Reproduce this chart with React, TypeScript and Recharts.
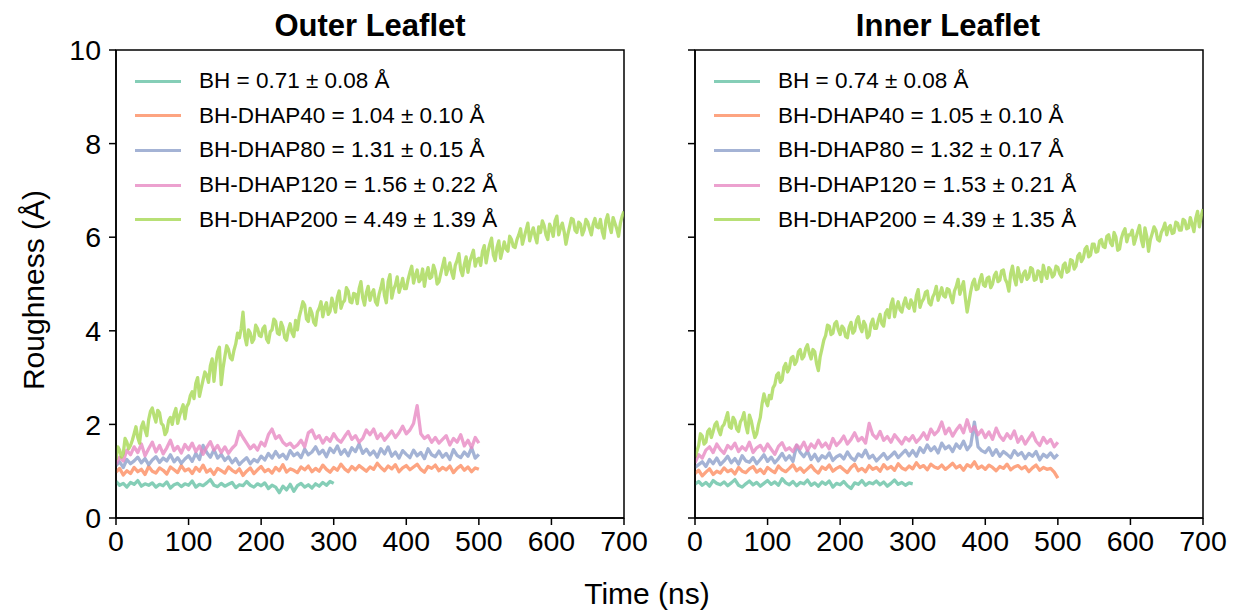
import React from "react";
import { LineChart, Line, XAxis, YAxis, ReferenceArea } from "recharts";

// sampling interval of the roughness traces (ns); the DHAP200 traces are read more finely
const SERIES_STEP_NS = [5, 5, 5, 5, 2.5];

const SYSTEMS = ["BH", "BH-DHAP40", "BH-DHAP80", "BH-DHAP120", "BH-DHAP200"];
const COLORS = ["#66c2a5", "#fc8d62", "#8da0cb", "#e78ac3", "#a6d854"];

const OUTER_MEAN = [0.71, 1.04, 1.31, 1.56, 4.49];
const OUTER_SD = [0.08, 0.10, 0.15, 0.22, 1.39];
const INNER_MEAN = [0.74, 1.05, 1.32, 1.53, 4.39];
const INNER_SD = [0.08, 0.10, 0.17, 0.21, 1.35];

const X_TICKS = [0, 100, 200, 300, 400, 500, 600, 700];
const Y_TICKS = [0, 2, 4, 6, 8, 10];

// ---- Outer leaflet (Å) ----
const OUTER_BH = [
  0.78, 0.70, 0.74, 0.66, 0.76, 0.72, 0.80, 0.68, 0.73, 0.70,
  0.75, 0.66, 0.72, 0.69, 0.77, 0.64, 0.71, 0.74, 0.67, 0.73,
  0.70, 0.79, 0.66, 0.72, 0.69, 0.75, 0.82, 0.70, 0.67, 0.74,
  0.68, 0.72, 0.76, 0.65, 0.71, 0.69, 0.78, 0.70, 0.66, 0.73,
  0.69, 0.75, 0.63, 0.70, 0.66, 0.54, 0.68, 0.60, 0.72, 0.57,
  0.69, 0.74, 0.66, 0.71, 0.64, 0.73, 0.68, 0.76, 0.70, 0.78,
  0.74,
];
const OUTER_DHAP40 = [
  0.98, 1.06, 0.92, 1.01, 0.95, 1.08, 0.99, 1.04, 0.93, 1.10,
  1.00, 0.96, 1.07, 1.02, 0.94, 1.09, 1.03, 0.97, 1.12, 1.01,
  1.05, 0.95, 1.08, 1.00, 1.13, 0.98, 1.04, 0.93, 1.06, 1.01,
  0.96, 1.09, 1.02, 0.97, 1.05, 0.91, 1.00, 1.07, 0.95, 1.03,
  1.10, 0.99, 1.04, 0.96, 1.08, 1.01, 1.14, 0.98, 1.05, 1.02,
  0.97, 1.09, 1.03, 1.11, 0.99, 1.06, 1.00, 1.13, 1.04, 0.98,
  1.08, 1.02, 1.15, 1.05, 0.99, 1.10, 1.03, 1.12, 1.06, 1.00,
  1.09, 1.04, 1.17, 1.08, 1.01, 1.11, 1.05, 1.14, 0.99, 1.07,
  1.12, 1.03, 1.09, 1.15, 1.04, 0.98, 1.10, 1.06, 1.13, 1.01,
  1.08, 1.03, 1.11, 0.97, 1.06, 1.12, 1.02, 1.09, 0.99, 1.07,
  1.04,
];
const OUTER_DHAP80 = [
  1.12, 1.20, 1.08, 1.25, 1.16, 1.22, 1.30, 1.18, 1.27, 1.14,
  1.24, 1.31, 1.19, 1.28, 1.22, 1.35, 1.20, 1.29, 1.17, 1.26,
  1.33, 1.21, 1.38, 1.25, 1.55, 1.40, 1.30, 1.46, 1.28, 1.36,
  1.23, 1.31, 1.18, 1.27, 1.14, 1.22, 1.29, 1.16, 1.25, 1.20,
  1.32, 1.24, 1.38, 1.28, 1.42, 1.30, 1.36, 1.26, 1.44, 1.33,
  1.39, 1.29, 1.47, 1.35, 1.41, 1.52, 1.37, 1.45, 1.31, 1.49,
  1.40, 1.54, 1.36, 1.46, 1.33, 1.50, 1.42, 1.58, 1.38, 1.47,
  1.35, 1.43, 1.30, 1.48, 1.37, 1.52, 1.32, 1.41, 1.28, 1.44,
  1.36, 1.29, 1.45, 1.33, 1.40, 1.27, 1.48, 1.35, 1.31, 1.43,
  1.30, 1.38, 1.25, 1.46, 1.34, 1.29, 1.41, 1.32, 1.50, 1.28,
  1.36,
];
const OUTER_DHAP120 = [
  1.15, 1.30, 1.22, 1.45, 1.35, 1.52, 1.40, 1.58, 1.33, 1.48,
  1.62, 1.41, 1.55, 1.37, 1.50, 1.66, 1.44, 1.53, 1.39, 1.57,
  1.46, 1.60, 1.42, 1.54, 1.36, 1.51, 1.63, 1.45, 1.55, 1.40,
  1.52, 1.38, 1.49, 1.57, 1.85, 1.72, 1.60, 1.48, 1.56, 1.45,
  1.62, 1.54, 1.78, 1.90, 1.70, 1.76, 1.62, 1.55, 1.60, 1.50,
  1.56, 1.66, 1.52, 1.82, 1.88, 1.70, 1.76, 1.60, 1.72, 1.64,
  1.80, 1.68, 1.62, 1.74, 1.85, 1.68, 1.76, 1.62, 1.70, 1.88,
  1.78, 1.90, 1.70, 1.80, 1.66, 1.76, 1.86, 1.72, 1.82, 1.96,
  1.80, 1.88, 2.02, 2.40, 1.80, 1.70, 1.76, 1.62, 1.72, 1.60,
  1.68, 1.76, 1.56, 1.70, 1.62, 1.78, 1.54, 1.66, 1.50, 1.72,
  1.60,
];
const OUTER_DHAP200 = [
  1.25, 1.52, 1.45, 1.30, 1.38, 1.70, 1.62, 1.48, 1.55, 1.66, 1.80, 1.95, 1.72, 1.60, 1.95, 2.05, 1.88, 1.76, 2.10, 2.28,
  2.35, 2.18, 2.05, 2.30, 2.25, 2.02, 1.98, 1.78, 1.85, 2.08, 2.15, 2.00, 2.22, 2.34, 2.02, 2.18, 2.30, 2.42, 2.12, 2.38,
  2.45, 2.62, 2.70, 2.55, 2.88, 3.00, 2.60, 2.78, 2.95, 3.12, 3.05, 2.90, 3.25, 3.40, 2.92, 3.30, 3.55, 3.65, 2.85, 3.20,
  3.45, 3.68, 3.60, 3.42, 3.38, 3.58, 3.72, 3.95, 3.85, 4.05, 4.40, 3.88, 3.70, 4.02, 3.95, 3.75, 3.82, 4.12, 4.05, 3.90,
  3.88, 4.05, 4.10, 3.82, 3.75, 3.98, 4.02, 4.25, 4.20, 3.95, 3.92, 4.18, 4.08, 3.85, 3.80, 4.02, 4.15, 3.96, 3.88, 4.22,
  4.02, 4.30, 4.45, 4.62, 4.55, 4.25, 4.20, 4.48, 4.38, 4.18, 4.12, 4.40, 4.48, 4.62, 4.30, 4.50, 4.60, 4.35, 4.42, 4.70,
  4.55, 4.40, 4.72, 4.85, 4.48, 4.60, 4.65, 4.92, 4.85, 4.62, 4.60, 4.80, 4.78, 4.58, 4.90, 5.05, 4.70, 4.55, 4.82, 4.95,
  4.65, 4.80, 4.88, 4.62, 4.55, 4.78, 4.92, 5.10, 4.75, 4.60, 5.05, 5.20, 4.70, 4.88, 4.98, 5.15, 4.82, 4.95, 5.12, 4.90,
  4.90, 5.10, 5.25, 5.38, 5.02, 5.18, 5.30, 5.05, 5.10, 5.32, 4.95, 5.20, 5.35, 5.12, 5.15, 5.40, 5.28, 5.00, 5.05, 5.22,
  5.38, 5.55, 5.20, 5.32, 5.45, 5.25, 5.12, 5.40, 5.50, 5.65, 5.30, 5.18, 5.42, 5.58, 5.25, 5.48, 5.60, 5.72, 5.38, 5.52,
  5.55, 5.40, 5.70, 5.82, 5.45, 5.68, 5.85, 5.98, 5.62, 5.50, 5.78, 5.92, 5.55, 5.72, 5.90, 5.75, 5.70, 6.02, 5.95, 5.80,
  5.78, 5.95, 6.05, 6.18, 5.85, 6.00, 6.15, 6.30, 5.92, 6.08, 6.20, 6.02, 5.88, 6.22, 6.10, 6.35, 6.25, 6.05, 5.95, 6.28,
  6.18, 6.02, 6.35, 6.45, 6.05, 6.20, 6.30, 6.12, 5.85, 6.05, 6.22, 6.40, 6.38, 6.15, 6.10, 6.32, 6.28, 6.05, 6.15, 6.38,
  6.32, 6.18, 6.05, 6.28, 6.40, 6.22, 6.20, 6.38, 6.12, 5.98, 6.35, 6.48, 6.25, 6.10, 6.42, 6.30, 6.18, 6.02, 6.30, 6.45,
  6.55,
];

// ---- Inner leaflet (Å) ----
const INNER_BH = [
  0.72, 0.78, 0.70, 0.76, 0.68, 0.80, 0.74, 0.71, 0.77, 0.69,
  0.75, 0.82, 0.70, 0.66, 0.73, 0.79, 0.71, 0.76, 0.68, 0.74,
  0.80, 0.72, 0.77, 0.70, 0.84, 0.75, 0.71, 0.78, 0.69, 0.76,
  0.73, 0.81, 0.70, 0.75, 0.68, 0.77, 0.72, 0.79, 0.66, 0.74,
  0.71, 0.78, 0.69, 0.63, 0.75, 0.72, 0.80, 0.70, 0.76, 0.73,
  0.79, 0.71, 0.77, 0.68, 0.74, 0.81, 0.72, 0.76, 0.70, 0.75,
  0.73,
];
const INNER_DHAP40 = [
  0.95, 1.02, 0.90, 0.98, 1.05, 0.93, 1.00, 0.96, 1.07, 0.99,
  1.03, 0.94, 1.08, 1.00, 0.97, 1.05, 1.10, 0.98, 1.04, 0.95,
  1.08, 1.02, 0.97, 1.11, 1.03, 0.99, 1.06, 1.14, 1.01, 1.07,
  0.98, 1.05, 1.12, 1.02, 0.96, 1.09, 1.04, 1.13, 1.00, 1.06,
  1.10, 1.03, 0.97, 1.08, 1.15, 1.01, 1.06, 0.99, 1.12, 1.04,
  1.08, 1.00, 1.14, 1.05, 1.10, 1.02, 1.16, 1.07, 1.03, 1.11,
  1.05, 1.18, 1.08, 1.12, 1.03, 1.15, 1.09, 1.06, 1.13, 1.04,
  1.10, 1.17, 1.07, 1.12, 1.02, 1.14, 1.09, 1.20, 1.06, 1.11,
  1.04, 1.13, 1.08, 1.01, 1.10, 1.06, 1.15, 1.03, 1.09, 1.12,
  1.05, 1.10, 0.99, 1.07, 1.13, 1.02, 1.08, 1.04, 1.06, 0.98,
  0.85,
];
const INNER_DHAP80 = [
  1.08, 1.14, 1.20, 1.10, 1.25, 1.16, 1.28, 1.14, 1.22, 1.32,
  1.18, 1.27, 1.15, 1.33, 1.22, 1.19, 1.29, 1.16, 1.25, 1.35,
  1.21, 1.30, 1.18, 1.27, 1.38, 1.24, 1.33, 1.21, 1.55, 1.40,
  1.31, 1.43, 1.25, 1.36, 1.22, 1.33, 1.28, 1.39, 1.23, 1.31,
  1.35, 1.26, 1.41, 1.29, 1.23, 1.37, 1.31, 1.45, 1.28, 1.34,
  1.22, 1.30, 1.38, 1.26, 1.33, 1.41, 1.29, 1.37, 1.45, 1.33,
  1.44, 1.32, 1.50, 1.40, 1.56, 1.44, 1.52, 1.39, 1.60, 1.48,
  1.54, 1.42, 1.58, 1.49, 1.64, 1.46, 1.56, 2.05, 1.52, 1.44,
  1.40, 1.50, 1.34, 1.46, 1.32, 1.42, 1.36, 1.29, 1.44, 1.34,
  1.40, 1.27, 1.38, 1.32, 1.42, 1.24, 1.36, 1.30, 1.39, 1.28,
  1.36,
];
const INNER_DHAP120 = [
  1.18, 1.35, 1.28, 1.45, 1.52, 1.40, 1.58, 1.46, 1.38, 1.55,
  1.48, 1.60, 1.42, 1.52, 1.45, 1.62, 1.40, 1.50, 1.55, 1.43,
  1.58, 1.47, 1.36, 1.53, 1.61, 1.45, 1.50, 1.42, 1.56, 1.48,
  1.62, 1.44, 1.58, 1.50, 1.66, 1.52, 1.60, 1.48, 1.70, 1.55,
  1.63, 1.75, 1.58, 1.68, 1.82, 1.65, 1.72, 1.60, 2.02, 1.78,
  1.70, 1.85, 1.66, 1.74, 1.62, 1.78, 1.68, 1.58, 1.72, 1.65,
  1.76, 1.62, 1.70, 1.82, 1.68, 1.90, 1.78, 1.86, 2.05, 1.80,
  1.92, 1.75, 1.88, 1.98, 1.82, 2.10, 1.85, 1.95, 1.78, 1.88,
  1.72, 1.84, 1.68, 1.92, 1.75, 1.66, 1.80, 1.70, 1.86, 1.62,
  1.74, 1.58, 1.70, 1.82, 1.64, 1.55, 1.72, 1.60, 1.68, 1.52,
  1.62,
];
const INNER_DHAP200 = [
  1.30, 1.42, 1.55, 1.80, 1.75, 1.58, 1.62, 1.85, 1.90, 1.72, 1.85, 2.00, 2.05, 1.88, 1.78, 1.95, 2.00, 2.12, 2.25, 1.95,
  1.92, 2.15, 2.08, 1.90, 1.85, 2.05, 2.12, 2.25, 1.98, 1.82, 2.20, 2.08, 1.88, 1.72, 1.80, 2.00, 2.15, 2.45, 2.65, 2.50,
  2.40, 2.62, 2.55, 2.78, 2.85, 3.05, 3.10, 2.90, 2.95, 3.22, 3.30, 3.12, 3.20, 3.42, 3.45, 3.28, 3.35, 3.55, 3.60, 3.40,
  3.45, 3.62, 3.70, 3.52, 3.40, 3.60, 3.55, 3.30, 3.15, 3.45, 3.62, 3.80, 3.90, 4.12, 4.10, 3.92, 3.95, 4.15, 4.20, 4.02,
  3.92, 4.10, 4.05, 3.88, 3.85, 4.08, 4.18, 3.95, 4.00, 4.22, 4.30, 4.08, 3.98, 4.20, 4.12, 3.85, 3.90, 4.15, 4.25, 4.05,
  4.05, 4.22, 4.35, 4.15, 4.10, 4.38, 4.45, 4.28, 4.55, 4.68, 4.30, 4.50, 4.62, 4.45, 4.40, 4.58, 4.70, 4.52, 4.48, 4.66,
  4.58, 4.42, 4.75, 4.88, 4.50, 4.62, 4.68, 4.82, 4.85, 4.60, 4.55, 4.72, 4.80, 4.95, 4.65, 4.78, 4.92, 4.75, 4.72, 4.90,
  4.88, 4.72, 4.60, 4.85, 4.95, 5.10, 4.78, 4.92, 5.05, 4.70, 4.40, 4.62, 4.85, 5.02, 5.10, 4.88, 4.90, 5.08, 5.20, 4.98,
  4.95, 5.12, 5.15, 4.92, 5.00, 5.18, 5.25, 5.05, 5.08, 5.28, 5.30, 5.10, 5.02, 4.85, 5.22, 5.38, 5.12, 4.98, 5.35, 5.18,
  5.05, 5.22, 5.28, 5.10, 5.15, 5.35, 5.32, 5.08, 5.10, 5.28, 5.25, 5.05, 5.40, 5.22, 5.12, 5.35, 5.30, 5.15, 5.20, 5.38,
  5.35, 5.22, 5.15, 5.40, 5.45, 5.25, 5.28, 5.52, 5.50, 5.32, 5.38, 5.60, 5.65, 5.48, 5.55, 5.75, 5.80, 5.58, 5.62, 5.85,
  5.85, 5.68, 5.70, 5.92, 5.95, 5.80, 5.78, 6.02, 6.05, 5.88, 5.82, 6.10, 6.00, 5.72, 5.75, 5.98, 6.10, 6.18, 5.90, 6.05,
  6.05, 6.15, 5.85, 5.98, 6.12, 6.25, 5.95, 5.80, 6.20, 6.02, 5.70, 5.95, 6.08, 6.22, 6.15, 5.95, 5.92, 6.10, 6.18, 6.30,
  6.05, 6.20, 6.25, 6.08, 6.10, 6.32, 6.30, 6.15, 6.15, 6.38, 6.35, 6.18, 6.20, 6.42, 6.28, 6.12, 6.40, 6.55, 6.22, 6.45,
  6.60,
];

const OUTER_SERIES = [OUTER_BH, OUTER_DHAP40, OUTER_DHAP80, OUTER_DHAP120, OUTER_DHAP200];
const INNER_SERIES = [INNER_BH, INNER_DHAP40, INNER_DHAP80, INNER_DHAP120, INNER_DHAP200];

const FONT = '"Liberation Sans", Arial, Helvetica, sans-serif';
const AXIS_COLOR = "#000";
const PLOT_WIDTH = 508;

const toPoints = (vals: number[], step: number) => vals.map((v, i) => ({ t: i * step, v }));

const NoTick = () => <g />;

// legend box drawn inside the axes, top-left corner
function PanelLegend({ means, sds, left }: { means: number[]; sds: number[]; left: number }) {
  return (
    <div style={{ position: "absolute", left, top: 64, fontFamily: FONT, fontSize: 22.5, color: "#000" }}>
      {SYSTEMS.map((name, i) => (
        <div key={name} style={{ display: "flex", alignItems: "center", height: 34.6, whiteSpace: "nowrap" }}>
          <span style={{ width: 46, height: 3, background: COLORS[i], opacity: 0.8, marginRight: 18 }} />
          <span>{`${name} = ${means[i].toFixed(2)} ± ${sds[i].toFixed(2)} Å`}</span>
        </div>
      ))}
    </div>
  );
}

function Panel({
  series, width, yAxisWidth, showYLabels,
}: {
  series: number[][]; width: number; yAxisWidth: number; showYLabels: boolean;
}) {
  const tickStyle = { fill: "#000", fontSize: 28.5, fontFamily: FONT };
  return (
    <LineChart
      width={width}
      height={612}
      margin={{ top: 50, right: width - yAxisWidth - PLOT_WIDTH, bottom: 0, left: 0 }}
    >
      <XAxis
        type="number"
        dataKey="t"
        domain={[0, 700]}
        ticks={X_TICKS}
        interval={0}
        allowDataOverflow
        height={94}
        tick={tickStyle}
        tickSize={7}
        tickMargin={6}
        axisLine={{ stroke: AXIS_COLOR, strokeWidth: 1.5 }}
        tickLine={{ stroke: AXIS_COLOR, strokeWidth: 1.5 }}
      />
      <YAxis
        type="number"
        domain={[0, 10]}
        ticks={Y_TICKS}
        interval={0}
        allowDataOverflow
        width={yAxisWidth}
        tick={showYLabels ? tickStyle : NoTick}
        tickSize={7}
        tickMargin={8}
        axisLine={{ stroke: AXIS_COLOR, strokeWidth: 1.5 }}
        tickLine={{ stroke: AXIS_COLOR, strokeWidth: 1.5 }}
      />
      <ReferenceArea x1={0} x2={700} y1={0} y2={10} fill="none" stroke={AXIS_COLOR} strokeWidth={1.5} />
      {series.map((vals, i) => (
        <Line
          key={SYSTEMS[i]}
          data={toPoints(vals, SERIES_STEP_NS[i])}
          dataKey="v"
          name={SYSTEMS[i]}
          type="linear"
          stroke={COLORS[i]}
          strokeOpacity={0.8}
          strokeWidth={3.3}
          strokeLinejoin="round"
          dot={false}
          activeDot={false}
          isAnimationActive={false}
        />
      ))}
    </LineChart>
  );
}

export default function App() {
  return (
    <div style={{ position: "absolute", left: 0, top: 0, width: 1233, height: 612, background: "#fff", fontFamily: FONT, overflow: "hidden" }}>
      <div style={{ position: "absolute", left: 0, top: 0 }}>
        <Panel series={OUTER_SERIES} width={680} yAxisWidth={116} showYLabels />
      </div>
      <div style={{ position: "absolute", left: 620, top: 0 }}>
        <Panel series={INNER_SERIES} width={613} yAxisWidth={75} showYLabels={false} />
      </div>
      <PanelLegend means={OUTER_MEAN} sds={OUTER_SD} left={135} />
      <PanelLegend means={INNER_MEAN} sds={INNER_SD} left={714} />
      <svg width={1233} height={612} style={{ position: "absolute", left: 0, top: 0, pointerEvents: "none" }}>
        <g fontFamily={FONT} fill="#000">
          <text x={370} y={36} textAnchor="middle" fontSize={31} fontWeight="bold">Outer Leaflet</text>
          <text x={948} y={36} textAnchor="middle" fontSize={31} fontWeight="bold">Inner Leaflet</text>
          <text x={0} y={0} transform="translate(44,290) rotate(-90)" textAnchor="middle" fontSize={30}>Roughness (Å)</text>
          <text x={647} y={604} textAnchor="middle" fontSize={30}>Time (ns)</text>
        </g>
      </svg>
    </div>
  );
}
